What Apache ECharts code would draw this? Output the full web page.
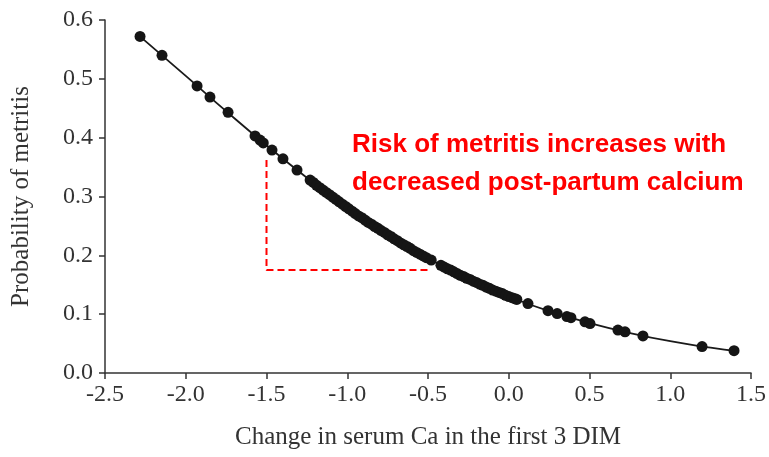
<!DOCTYPE html>
<html>
<head>
<meta charset="utf-8">
<script src="https://cdn.jsdelivr.net/npm/echarts@6/dist/echarts.min.js"></script>
<style>
html,body{margin:0;padding:0;background:#fff;}
#chart{width:769px;height:457px;}
</style>
</head>
<body>
<div id="chart"></div>
<script>
// Observed data points (change in serum Ca, probability of metritis)
const pointX = [-2.283,-2.147,-1.930,-1.850,-1.738,-1.571,-1.540,-1.520,-1.466,-1.398,-1.311,
  -1.23,-1.21,-1.19,-1.17,-1.15,-1.13,-1.11,-1.09,-1.07,-1.05,-1.03,-1.01,-0.99,-0.97,-0.95,-0.93,-0.91,-0.89,-0.87,-0.85,
  -0.83,-0.81,-0.79,-0.77,-0.75,-0.73,-0.71,-0.69,-0.67,-0.65,-0.63,-0.61,-0.59,-0.57,-0.55,-0.53,-0.51,-0.48,
  -0.42,-0.40,-0.38,-0.36,-0.34,-0.32,-0.30,-0.28,-0.26,-0.24,-0.22,-0.20,-0.18,-0.16,-0.14,-0.12,-0.10,-0.08,-0.06,-0.04,
  -0.02,0.00,0.02,0.04,0.05,
  0.119,0.243,0.300,0.360,0.385,0.472,0.503,0.676,0.720,0.831,1.197,1.395];
const pointY = [0.572,0.540,0.488,0.469,0.443,0.403,0.396,0.391,0.379,0.364,0.345,
  0.328,0.324,0.319,0.315,0.311,0.307,0.303,0.299,0.295,0.291,0.287,0.283,0.279,0.275,0.271,0.267,0.264,0.260,0.256,0.253,
  0.249,0.246,0.242,0.239,0.235,0.232,0.228,0.225,0.221,0.218,0.215,0.212,0.208,0.205,0.202,0.199,0.196,0.192,
  0.183,0.180,0.177,0.175,0.172,0.169,0.166,0.164,0.161,0.159,0.156,0.154,0.151,0.149,0.146,0.144,0.141,0.139,0.137,0.135,
  0.132,0.130,0.128,0.126,0.125,
  0.118,0.106,0.101,0.096,0.094,0.087,0.084,0.073,0.070,0.063,0.045,0.038];
// Fitted curve
const curveX = [-2.30,-2.00,-1.75,-1.50,-1.25,-1.00,-0.75,-0.50,-0.25,0.00,0.25,0.50,0.75,1.00,1.25,1.42];
const curveY = [0.576,0.505,0.445,0.387,0.332,0.281,0.235,0.195,0.160,0.130,0.105,0.085,0.068,0.054,0.043,0.037];
// Red dashed annotation guide
const guideX = [-1.5,-1.5,-0.49];
const guideY = [0.362,0.175,0.175];
const xTicks = [-2.5,-2.0,-1.5,-1.0,-0.5,0.0,0.5,1.0,1.5];
const yTicks = [0.0,0.1,0.2,0.3,0.4,0.5,0.6];
const xName = 'Change in serum Ca in the first 3 DIM';
const yName = 'Probability of metritis';
const noteLines = ['Risk of metritis increases with','decreased post-partum calcium'];

const zip = (a,b) => a.map((v,i)=>[v,b[i]]);
const serif = '"Liberation Serif","Times New Roman",serif';
const chart = echarts.init(document.getElementById('chart'), null, {renderer:'canvas'});
chart.setOption({
  animation:false,
  backgroundColor:'#fff',
  grid:{left:105,right:18,top:20,bottom:84,containLabel:false},
  xAxis:{
    type:'value', min:xTicks[0], max:xTicks[xTicks.length-1], interval:0.5,
    name:xName, nameLocation:'middle', nameGap:52,
    nameTextStyle:{fontFamily:serif,fontSize:25,color:'#333'},
    axisLine:{show:true,onZero:false,lineStyle:{color:'#333',width:1.5}},
    axisTick:{show:true,length:6,inside:false,lineStyle:{color:'#333',width:1.5}},
    axisLabel:{fontFamily:serif,fontSize:24,color:'#333',margin:10,formatter:v=>v.toFixed(1)},
    splitLine:{show:false}
  },
  yAxis:{
    type:'value', min:yTicks[0], max:yTicks[yTicks.length-1], interval:0.1,
    name:yName, nameLocation:'middle', nameGap:71, nameRotate:90,
    nameTextStyle:{fontFamily:serif,fontSize:25,color:'#333'},
    axisLine:{show:true,onZero:false,lineStyle:{color:'#333',width:1.5}},
    axisTick:{show:true,length:6,inside:false,lineStyle:{color:'#333',width:1.5}},
    axisLabel:{fontFamily:serif,fontSize:24,color:'#333',margin:12,formatter:v=>v.toFixed(1)},
    splitLine:{show:false}
  },
  series:[
    {type:'line',name:'fit',data:zip(curveX,curveY),smooth:true,showSymbol:false,
      lineStyle:{color:'#1a1a1a',width:1.8},z:2},
    {type:'scatter',name:'obs',data:zip(pointX,pointY),symbolSize:11,
      itemStyle:{color:'#151515',opacity:1},z:3},
    {type:'line',name:'guide',data:zip(guideX,guideY),showSymbol:false,
      lineStyle:{color:'#ff0000',width:2,type:[7,4]},z:4}
  ],
  graphic:[
    {type:'text',left:352,top:132,style:{text:noteLines[0],font:'bold 26px "Liberation Sans",Arial,sans-serif',fill:'#ff0000'}},
    {type:'text',left:352,top:170,style:{text:noteLines[1],font:'bold 26px "Liberation Sans",Arial,sans-serif',fill:'#ff0000'}}
  ]
});
</script>
</body>
</html>
